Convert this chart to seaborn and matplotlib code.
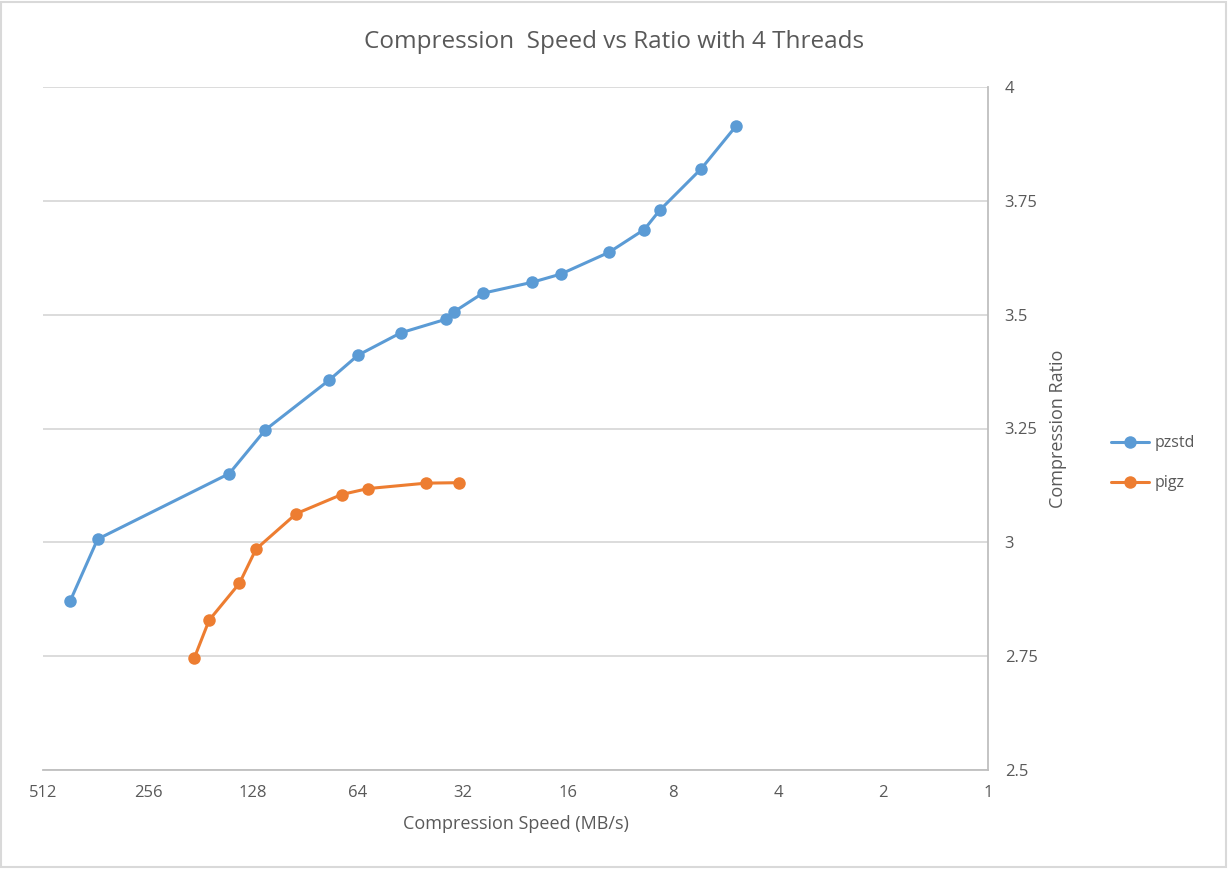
import pandas as pd
import matplotlib
matplotlib.use('Agg')
import matplotlib.pyplot as plt
import seaborn as sns
from matplotlib.patches import Rectangle

# Data
pzstd_speed = [428, 357, 149.7, 118, 77.5, 64, 48.3, 35.8, 34, 28.1, 20.3, 16.8, 12.2, 9.67, 8.74, 6.63, 5.28]
pzstd_ratio = [2.871, 3.007, 3.151, 3.247, 3.356, 3.411, 3.460, 3.490, 3.506, 3.547, 3.571, 3.589, 3.637, 3.687, 3.729, 3.821, 3.914]
pigz_speed = [188.6, 171, 140, 125.5, 96.2, 71.3, 60, 40.8, 32.9]
pigz_ratio = [2.746, 2.829, 2.910, 2.985, 3.063, 3.105, 3.118, 3.130, 3.131]

x_ticks = [512, 256, 128, 64, 32, 16, 8, 4, 2, 1]
y_ticks = [2.5, 2.75, 3, 3.25, 3.5, 3.75, 4]
y_labels = ['2.5', '2.75', '3', '3.25', '3.5', '3.75', '4']

df = pd.concat([
    pd.DataFrame({'speed': pzstd_speed, 'ratio': pzstd_ratio, 'tool': 'pzstd'}),
    pd.DataFrame({'speed': pigz_speed, 'ratio': pigz_ratio, 'tool': 'pigz'}),
])

sns.set_style('white')
plt.rcParams['font.family'] = ['Open Sans', 'DejaVu Sans']
text_col = '#595959'
grid_col = '#D9D9D9'

fig = plt.figure(figsize=(12.28, 8.69), dpi=100)
ax = fig.add_axes([43 / 1228, 1 - 770 / 869, 945 / 1228, 683 / 869])

sns.lineplot(data=df, x='speed', y='ratio', hue='tool', sort=False,
             palette={'pzstd': '#5B9BD5', 'pigz': '#ED7D31'},
             marker='o', markersize=9, markeredgewidth=0, linewidth=2.2, ax=ax)

ax.set_xscale('log', base=2)
ax.set_xlim(512, 1)
ax.set_ylim(2.5, 4)
ax.set_xticks(x_ticks)
ax.set_xticklabels([str(t) for t in x_ticks])
ax.minorticks_off()
ax.yaxis.tick_right()
ax.yaxis.set_label_position('right')
ax.set_yticks(y_ticks)
ax.set_yticklabels(y_labels)
ax.tick_params(length=0, labelsize=12, colors=text_col)
ax.tick_params(axis='x', pad=11)
ax.tick_params(axis='y', pad=12)
ax.grid(axis='y', color=grid_col, linewidth=1.3)
ax.grid(axis='x', visible=False)

for side in ['top', 'left']:
    ax.spines[side].set_visible(False)
for side in ['bottom', 'right']:
    ax.spines[side].set_color('#BFBFBF')
    ax.spines[side].set_linewidth(1.3)

ax.set_xlabel('Compression Speed (MB/s)', fontsize=13, color=text_col, labelpad=10)
ax.set_ylabel('Compression Ratio', fontsize=13, color=text_col, labelpad=8)
fig.text(0.5, 1 - 42 / 869, 'Compression  Speed vs Ratio with 4 Threads',
         fontsize=17.5, color=text_col, ha='center', va='center')

leg = ax.legend(loc='center left', bbox_to_anchor=(1.115, 0.449), frameon=False,
                fontsize=11.5, handlelength=2.4, labelspacing=1.5, handletextpad=0.3)
for t in leg.get_texts():
    t.set_color(text_col)

fig.patches.append(Rectangle((0.001, 0.002), 0.997, 0.996, transform=fig.transFigure,
                             fill=False, edgecolor=grid_col, linewidth=1.5))

fig.savefig('out.png', dpi=100)
